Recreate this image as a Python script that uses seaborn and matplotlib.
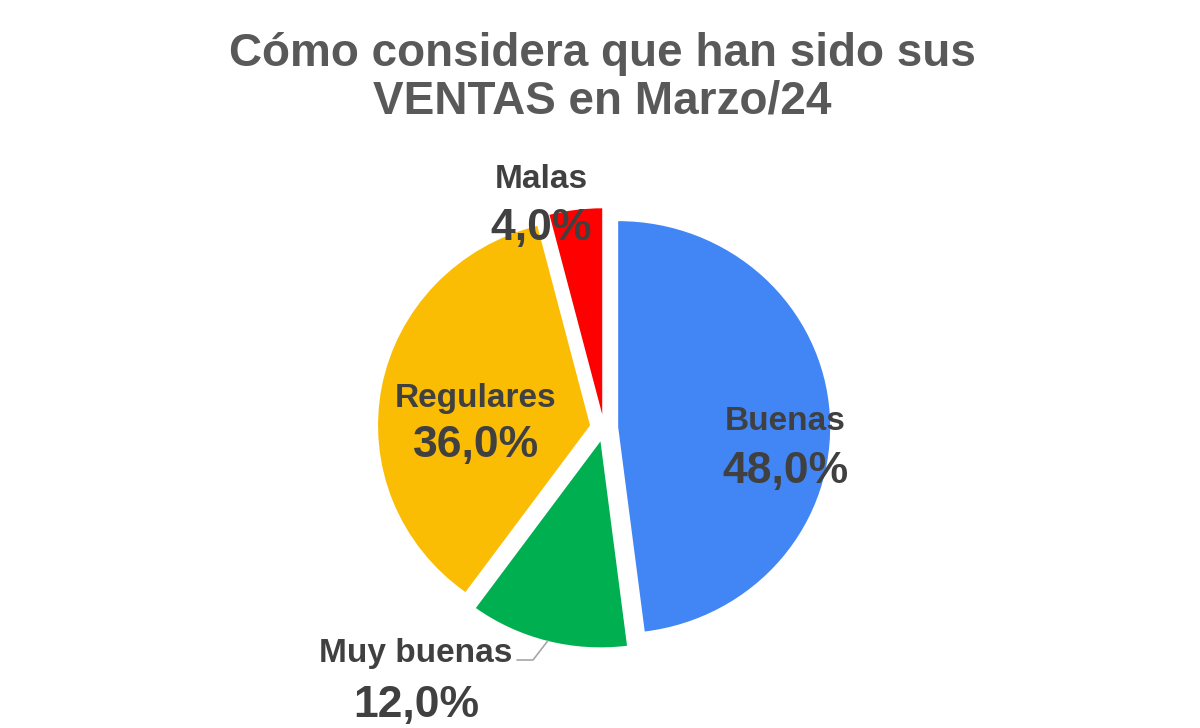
import numpy as np
import matplotlib.pyplot as plt
import seaborn as sns

# datos
categorias = ['Buenas', 'Muy buenas', 'Regulares', 'Malas']
porcentajes = [48.0, 12.0, 36.0, 4.0]
colores = ['#4285F4', '#00B050', '#FBBC04', '#FF0000']
titulo = 'Cómo considera que han sido sus\nVENTAS en Marzo/24'

sns.set_theme(style='white')
plt.rcParams['font.family'] = ['Liberation Sans', 'DejaVu Sans']

W, H = 1200, 728
cx, cy = 604, 428   # centro del pastel en px
RX, RY = 212, 206   # radio en px (la imagen está algo estirada a lo ancho)


def px(x, y):
    # px de la imagen -> coordenadas de datos (radio = 1)
    return (x - cx) / RX, (cy - y) / RY


fig = plt.figure(figsize=(12, 7.28), dpi=100)
ax = fig.add_axes([0, 0, 1, 1])

wedges, _ = ax.pie(porcentajes, colors=sns.color_palette(colores), startangle=90,
                   counterclock=False, explode=[0.067] * 4, radius=1,
                   wedgeprops=dict(linewidth=0))

# pie() fija sus propios límites: se reajustan después
ax.set_xlim(-cx / RX, (W - cx) / RX)
ax.set_ylim(-(H - cy) / RY, cy / RY)
ax.set_aspect('auto')
ax.axis('off')

txt_color = '#404040'
# posiciones de las etiquetas (centro x, línea base nombre, línea base %)
pos_etiquetas = [(785, 430, 483), (416, 662, 717), (476, 407, 457), (541, 188, 240)]
for cat, val, (x, yb1, yb2) in zip(categorias, porcentajes, pos_etiquetas):
    ax.text(*px(x, yb1), cat, ha='center', va='baseline', fontsize=24,
            fontweight='bold', color=txt_color)
    ax.text(*px(x, yb2), f'{val:.1f}%'.replace('.', ','), ha='center', va='baseline',
            fontsize=32, fontweight='bold', color=txt_color)

# línea guía de "Muy buenas"
w = wedges[1]
ang = np.deg2rad((w.theta1 + w.theta2) / 2)
xa = w.center[0] + w.r * np.cos(ang)
ya = w.center[1] + w.r * np.sin(ang)
x_codo, y_codo = px(533, 660)
x_fin, _ = px(517, 660)
ax.plot([xa, x_codo, x_fin], [ya, y_codo, y_codo], color='#A6A6A6', lw=1.2)

fig.text(602 / W, 1 - 113 / H, titulo, ha='center', va='baseline', fontsize=33,
         fontweight='bold', color='#595959', linespacing=1.08)

fig.savefig('out.png', dpi=100)
